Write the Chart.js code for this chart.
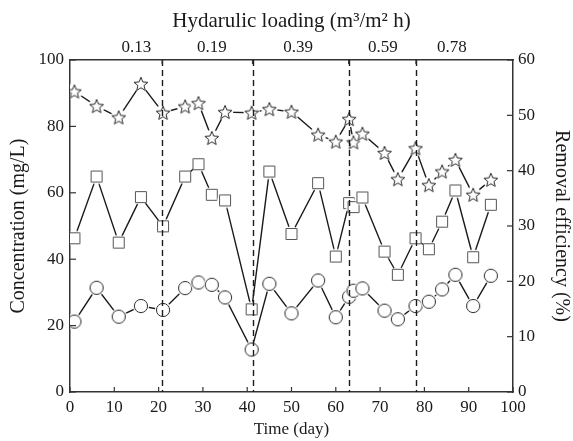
<!DOCTYPE html>
<html><head><meta charset="utf-8">
<script src="https://cdn.jsdelivr.net/npm/chart.js@4.4.0/dist/chart.umd.min.js"></script>
<style>html,body{margin:0;padding:0;background:#fff}#wrap{width:573px;height:441px}</style>
</head><body><div id="wrap"><canvas id="c" width="573" height="441"></canvas></div>
<script>
// ---- data ----
const days = [1,6,11,16,21,26,29,32,35,41,45,50,56,60,63,64,66,71,74,78,81,84,87,91,95];
const starValues   = [90.5,86.1,82.7,92.8,84.1,86.0,87.0,76.5,84.3,84.1,85.2,84.4,77.5,75.4,82.2,75.2,77.8,72.0,64.1,73.4,62.3,66.4,69.9,59.4,63.9];
const squareValues = [46.3,64.9,45.0,58.7,49.9,64.9,68.6,59.4,57.7,24.9,66.4,47.6,62.9,40.8,56.9,55.7,58.6,42.3,35.3,46.3,43.0,51.3,60.7,40.6,56.4];
const circleValues = [21.2,31.4,22.7,25.9,24.7,31.3,33.0,32.3,28.5,12.8,32.6,23.7,33.6,22.5,28.7,30.5,31.2,24.5,21.9,25.9,27.2,30.9,35.3,25.9,35.0];
const loadingLabels = ['0.13','0.19','0.39','0.59','0.78'];
const loadingLabelDays = [15,32,51.5,70.6,86.2];
const loadingBoundaries = [20.8,41.2,62.9,78.1];

// ---- marker images ----
function makeMarker(kind){
  const s = 22, c = document.createElement('canvas');
  c.width = s; c.height = s;
  const g = c.getContext('2d'), m = s/2;
  g.fillStyle = '#fff';
  g.beginPath(); g.arc(m, m, kind==='rect'?7.8:8.2, 0, Math.PI*2); g.fill();
  g.strokeStyle = kind==='rect' ? '#555' : '#2a2a2a';
  g.lineWidth = 1;
  g.beginPath();
  if (kind === 'star') {
    const R = 7.3, r = 3.2;
    for (let i = 0; i < 10; i++) {
      const a = -Math.PI/2 + i*Math.PI/5, rr = i%2 ? r : R;
      const px = m + rr*Math.cos(a), py = m + 0.6 + rr*Math.sin(a);
      i ? g.lineTo(px, py) : g.moveTo(px, py);
    }
    g.closePath();
  } else if (kind === 'circle') {
    g.arc(m, m, 6.6, 0, Math.PI*2);
  } else {
    g.rect(m-5.5, m-5.5, 11, 11);
  }
  g.fill(); g.stroke();
  return c;
}
const starImg = makeMarker('star'), circleImg = makeMarker('circle'), rectImg = makeMarker('rect');

const serif = "'Liberation Serif','Times New Roman',serif";
Chart.defaults.font.family = serif;
Chart.defaults.color = '#1a1a1a';

function series(vals, img){
  return {
    data: days.map((d,i)=>({x:d, y:vals[i]})),
    showLine: true, borderColor: '#1a1a1a', borderWidth: 1.4,
    pointStyle: img, pointRadius: 7, pointHoverRadius: 7, yAxisID: 'y'
  };
}

const innerTicks = {
  id: 'innerTicks',
  afterDatasetsDraw(chart){
    const g = chart.ctx, a = chart.chartArea, sc = chart.scales;
    g.save();
    g.strokeStyle = '#1a1a1a'; g.lineWidth = 1.4;
    g.setLineDash([6,4]);
    loadingBoundaries.forEach(v=>{
      const x = Math.round(sc.x.getPixelForValue(v)) + 0.5;
      g.beginPath(); g.moveTo(x, a.top); g.lineTo(x, a.bottom); g.stroke();
    });
    g.setLineDash([]);
    g.strokeStyle = '#333'; g.lineWidth = 1.2;
    sc.x.ticks.forEach(t=>{
      const x = sc.x.getPixelForValue(t.value);
      g.beginPath(); g.moveTo(x, a.bottom); g.lineTo(x, a.bottom-5); g.stroke();
    });
    loadingBoundaries.forEach(v=>{
      const x = sc.x.getPixelForValue(v);
      g.beginPath(); g.moveTo(x, a.top); g.lineTo(x, a.top+4); g.stroke();
    });
    sc.y.ticks.forEach(t=>{
      const y = sc.y.getPixelForValue(t.value);
      g.beginPath(); g.moveTo(a.left, y); g.lineTo(a.left+6, y); g.stroke();
    });
    sc.y1.ticks.forEach(t=>{
      const y = sc.y1.getPixelForValue(t.value);
      g.beginPath(); g.moveTo(a.right, y); g.lineTo(a.right-6, y); g.stroke();
    });
    g.restore();
  }
};

const border = {display:true, color:'#333', width:1.5};
const noGrid = {display:false, drawTicks:false};

new Chart(document.getElementById('c'), {
  type: 'scatter',
  data: { datasets: [
    series(starValues, starImg),
    series(squareValues, rectImg),
    series(circleValues, circleImg)
  ]},
  options: {
    responsive: false, animation: false,
    layout: { padding: 0 },
    plugins: { legend:{display:false}, tooltip:{enabled:false} },
    scales: {
      x: {
        type:'linear', position:'bottom', min:0, max:100,
        ticks:{stepSize:10, font:{size:17}, padding:5, maxRotation:0, autoSkip:false},
        grid: noGrid, border,
        title:{display:true, text:'Time (day)', font:{size:17}, padding:{top:0,bottom:1}},
        afterFit(s){ s.height = 49; }
      },
      xTop: {
        type:'linear', position:'top', min:0, max:100,
        afterBuildTicks(s){ s.ticks = loadingLabelDays.map(v=>({value:v})); },
        ticks:{callback:(v,i)=>loadingLabels[i], font:{size:17}, padding:2, maxRotation:0, autoSkip:false},
        grid: noGrid, border,
        title:{display:true, text:'Hydarulic loading (m\u00B3/m\u00B2 h)', font:{size:21}, padding:{top:9,bottom:0}},
        afterFit(s){ s.height = 60; }
      },
      y: {
        position:'left', min:0, max:100,
        ticks:{stepSize:20, font:{size:17}, padding:6},
        grid: noGrid, border,
        title:{display:true, text:'Concentration (mg/L)', font:{size:20}, padding:{top:7,bottom:0}},
        afterFit(s){ s.width = 70; }
      },
      y1: {
        position:'right', min:0, max:60,
        ticks:{stepSize:10, font:{size:17}, padding:5},
        grid: noGrid, border,
        title:{display:true, text:'Removal efficiency (%)', font:{size:20}, padding:{top:0,bottom:1}},
        afterFit(s){ s.width = 60; }
      }
    }
  },
  plugins: [innerTicks]
});
</script>
</body></html>
